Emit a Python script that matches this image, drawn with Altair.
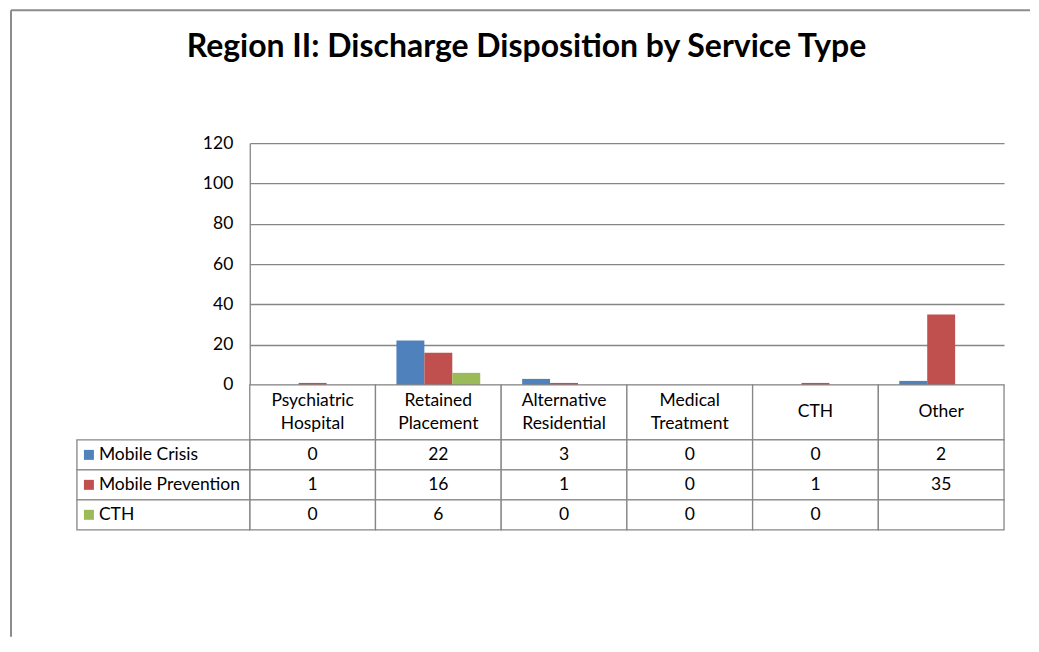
import altair as alt
import pandas as pd

# ---- data ----
categories = ["Psychiatric Hospital", "Retained Placement", "Alternative Residential",
              "Medical Treatment", "CTH", "Other"]
series = ["Mobile Crisis", "Mobile Prevention", "CTH"]
mobile_crisis = [0, 22, 3, 0, 0, 2]
mobile_prevention = [1, 16, 1, 0, 1, 35]
cth = [0, 6, 0, 0, 0, None]
y_ticks = [0, 20, 40, 60, 80, 100, 120]
title_text = "Region II: Discharge Disposition by Service Type"

# ---- styling ----
colors = ["#4F81BD", "#C0504D", "#9BBB59"]
GRAY = "#868686"
FONT = "Lato"
FS = 17.5
LH = 23
PLOT_W, PLOT_H, HEAD_H, ROWS_H = 755, 242, 55, 90

rows = []
for s, vals in zip(series, [mobile_crisis, mobile_prevention, cth]):
    for c, v in zip(categories, vals):
        rows.append({"category": c, "series": s, "value": v})
df = pd.DataFrame(rows)
cat_df = pd.DataFrame({"category": categories})
leg_df = pd.DataFrame({"series": series})

x_scale = alt.Scale(domain=categories, paddingInner=0, paddingOuter=0)
x_cat = alt.X("category:N", sort=categories, scale=x_scale, axis=None)
color_enc = alt.Color("series:N", scale=alt.Scale(domain=series, range=colors), legend=None)

# ---- bar chart ----
bars = alt.Chart(df).transform_filter("isValid(datum.value)").mark_bar().encode(
    x=x_cat,
    xOffset=alt.XOffset("series:N", sort=series,
                        scale=alt.Scale(domain=series, paddingInner=0, paddingOuter=0.75)),
    y=alt.Y("value:Q", scale=alt.Scale(domain=[0, 120], nice=False),
            axis=alt.Axis(values=y_ticks, title=None, grid=True, gridColor=GRAY,
                          gridWidth=1.3, domainColor=GRAY, domainWidth=1.3, ticks=False,
                          labelPadding=17, labelFontSize=FS, labelColor="#000",
                          labelFont=FONT)),
    color=color_enc,
)

frame_data = alt.Data(values=[{"frame": 1}])
frame_left = alt.Chart(frame_data).mark_rule(color="#8c8c8c", strokeWidth=2).encode(
    x=alt.value(-239), y=alt.value(-133), y2=alt.value(494))
frame_top = alt.Chart(frame_data).mark_rule(color="#8c8c8c", strokeWidth=2).encode(
    x=alt.value(-239), x2=alt.value(781), y=alt.value(-133))

top_chart = alt.layer(frame_left, frame_top, bars).properties(width=PLOT_W, height=PLOT_H)

# ---- table header ----
head_rect = alt.Chart(cat_df).mark_rect(fill="white", stroke=GRAY, strokeWidth=1.3).encode(
    x=x_cat, y=alt.value(0), y2=alt.value(HEAD_H))
head_two = alt.Chart(cat_df).transform_filter("indexof(datum.category, ' ') >= 0").mark_text(
    fontSize=FS, lineBreak=" ", lineHeight=LH, dy=-LH / 2, color="#000", font=FONT).encode(
    x=x_cat, text="category:N")
head_one = alt.Chart(cat_df).transform_filter("indexof(datum.category, ' ') < 0").mark_text(
    fontSize=FS, color="#000", font=FONT).encode(
    x=x_cat, text="category:N")
header = alt.layer(head_rect, head_two, head_one).properties(width=PLOT_W, height=HEAD_H)

# ---- table values ----
y_rows = alt.Y("series:N", sort=series,
               scale=alt.Scale(domain=series, paddingInner=0, paddingOuter=0), axis=None)
cell_rect = alt.Chart(df).mark_rect(fill="white", stroke=GRAY, strokeWidth=1.3).encode(
    x=x_cat, y=y_rows)
cell_text = alt.Chart(df).transform_filter("isValid(datum.value)").mark_text(
    fontSize=FS, color="#000", font=FONT).encode(
    x=x_cat, y=y_rows, text=alt.Text("value:Q", format="d"))
leg_rect = alt.Chart(leg_df).mark_rect(fill="white", stroke=GRAY, strokeWidth=1.3).encode(
    x=alt.value(-173), x2=alt.value(0), y=y_rows)
leg_sq = alt.Chart(leg_df).mark_square(size=100, opacity=1).encode(
    x=alt.value(-161), y=y_rows, color=color_enc)
leg_text = alt.Chart(leg_df).mark_text(align="left", fontSize=FS, color="#000",
                                       font=FONT).encode(
    x=alt.value(-151), y=y_rows, text="series:N")
values = alt.layer(cell_rect, cell_text, leg_rect, leg_sq, leg_text).properties(
    width=PLOT_W, height=ROWS_H)

chart = alt.vconcat(top_chart, header, values, spacing=0, bounds="flush").properties(
    title=alt.Title(title_text, fontSize=32, font=FONT, fontWeight="bold",
                    anchor="middle", color="#000", dy=59, dx=6),
    padding={"left": 2, "top": 1, "right": 0, "bottom": 0},
).configure(font=FONT).configure_view(strokeWidth=0)

chart.save("out.html", embed_options={"renderer": "svg", "actions": False})
